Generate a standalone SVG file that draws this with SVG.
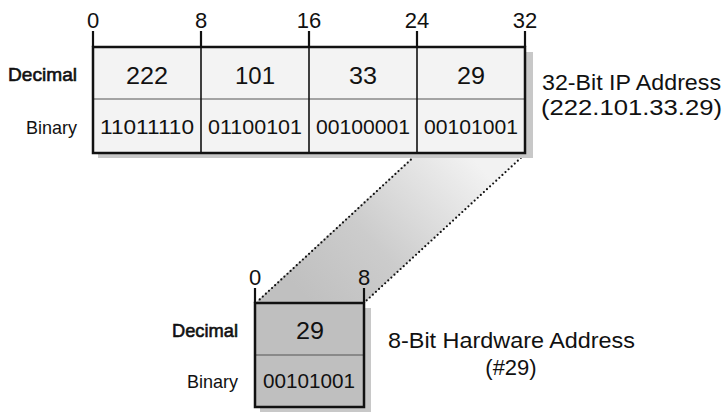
<svg xmlns="http://www.w3.org/2000/svg" width="725" height="412" viewBox="0 0 725 412">
<defs>
<linearGradient id="proj" gradientUnits="userSpaceOnUse" x1="470" y1="155" x2="310" y2="302">
<stop offset="0" stop-color="#f2f2f2"/>
<stop offset="0.6" stop-color="#cccccc"/>
<stop offset="1" stop-color="#c0c0c0"/>
</linearGradient>
</defs>
<style>
text{font-family:"Liberation Sans","Open Sans",sans-serif;fill:#111}
.tick{font-size:22px;text-anchor:middle}
.val{font-size:23px;text-anchor:middle}
.bin{font-size:20px;text-anchor:middle}
.lblD{font-size:19px;text-anchor:end;stroke:#111;stroke-width:0.6}
.lblB{font-size:19px;text-anchor:end}
.cap{font-size:22px}
.frame{fill:none;stroke:#111;stroke-width:2.5}
.div{stroke:#111;stroke-width:1.6}
.mid{stroke:#555;stroke-width:1.2}
.tk{stroke:#111;stroke-width:2.2}
.shadow{fill:#c8c8c8}
.dots{stroke:#111;stroke-width:2.2;stroke-linecap:round;stroke-dasharray:0 4.2;fill:none}
</style>
<g id="connectors">
<polygon points="417,153 525,153 364,303 255,303" fill="url(#proj)"/>
<line class="dots" x1="417" y1="154" x2="258" y2="301"/>
<line class="dots" x1="524" y1="155" x2="366" y2="301"/>
</g>
<g id="ip-address">
<rect class="shadow" x="98" y="52" width="435" height="106"/>
<rect x="93" y="47" width="432" height="106" fill="#f3f3f3"/>
<line class="mid" x1="93" y1="99" x2="525" y2="99"/>
<line class="div" x1="201" y1="47" x2="201" y2="153"/>
<line class="div" x1="309" y1="47" x2="309" y2="153"/>
<line class="div" x1="417" y1="47" x2="417" y2="153"/>
<rect class="frame" x="93" y="47" width="432" height="106"/>
<line class="tk" x1="93" y1="31" x2="93" y2="47"/>
<line class="tk" x1="201" y1="31" x2="201" y2="47"/>
<line class="tk" x1="309" y1="31" x2="309" y2="47"/>
<line class="tk" x1="417" y1="31" x2="417" y2="47"/>
<line class="tk" x1="525" y1="31" x2="525" y2="47"/>
<text class="tick" x="93" y="28">0</text>
<text class="tick" x="201" y="28">8</text>
<text class="tick" x="309" y="28">16</text>
<text class="tick" x="417" y="28">24</text>
<text class="tick" x="525" y="28">32</text>
<text class="lblD" x="77" y="81" textLength="69" lengthAdjust="spacingAndGlyphs">Decimal</text>
<text class="lblB" x="77" y="134" textLength="51" lengthAdjust="spacingAndGlyphs">Binary</text>
<text class="val" x="147" y="84" textLength="42" lengthAdjust="spacingAndGlyphs">222</text>
<text class="val" x="255" y="84" textLength="40" lengthAdjust="spacingAndGlyphs">101</text>
<text class="val" x="363" y="84" textLength="28" lengthAdjust="spacingAndGlyphs">33</text>
<text class="val" x="471" y="84" textLength="28" lengthAdjust="spacingAndGlyphs">29</text>
<text class="bin" x="147" y="134" textLength="94" lengthAdjust="spacingAndGlyphs">11011110</text>
<text class="bin" x="255" y="134" textLength="94" lengthAdjust="spacingAndGlyphs">01100101</text>
<text class="bin" x="363" y="134" textLength="94" lengthAdjust="spacingAndGlyphs">00100001</text>
<text class="bin" x="471" y="134" textLength="94" lengthAdjust="spacingAndGlyphs">00101001</text>
<text class="cap" x="542" y="90" textLength="179" lengthAdjust="spacingAndGlyphs">32-Bit IP Address</text>
<text class="cap" x="541" y="115" textLength="181" lengthAdjust="spacingAndGlyphs">(222.101.33.29)</text>
</g>
<g id="hw-address">
<rect class="shadow" x="260" y="308" width="111" height="104"/>
<rect x="255" y="303" width="109" height="104" fill="#bfbfbf"/>
<line class="mid" x1="255" y1="355" x2="364" y2="355"/>
<rect class="frame" x="255" y="303" width="109" height="104"/>
<line class="tk" x1="255" y1="288" x2="255" y2="303"/>
<line class="tk" x1="364" y1="288" x2="364" y2="303"/>
<text class="tick" x="255" y="285">0</text>
<text class="tick" x="364" y="285">8</text>
<text class="lblD" x="238" y="337" textLength="66" lengthAdjust="spacingAndGlyphs">Decimal</text>
<text class="lblB" x="238" y="388" textLength="51" lengthAdjust="spacingAndGlyphs">Binary</text>
<text class="val" x="310" y="339" textLength="28" lengthAdjust="spacingAndGlyphs">29</text>
<text class="bin" x="309" y="388" textLength="92" lengthAdjust="spacingAndGlyphs">00101001</text>
<text class="cap" x="388" y="348" textLength="247" lengthAdjust="spacingAndGlyphs">8-Bit Hardware Address</text>
<text class="cap" x="511" y="375" text-anchor="middle">(#29)</text>
</g>
</svg>
